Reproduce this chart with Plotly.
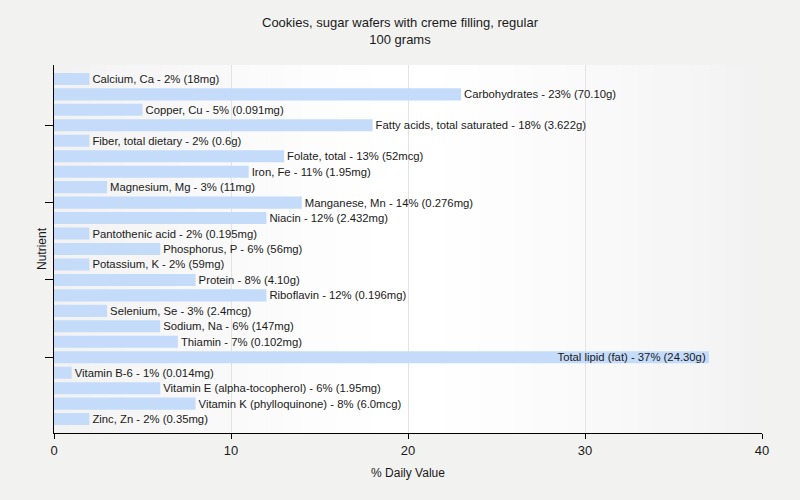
import plotly.graph_objects as go

nutrients = ["Calcium, Ca", "Carbohydrates", "Copper, Cu", "Fatty acids, total saturated",
             "Fiber, total dietary", "Folate, total", "Iron, Fe", "Magnesium, Mg",
             "Manganese, Mn", "Niacin", "Pantothenic acid", "Phosphorus, P",
             "Potassium, K", "Protein", "Riboflavin", "Selenium, Se", "Sodium, Na",
             "Thiamin", "Total lipid (fat)", "Vitamin B-6", "Vitamin E (alpha-tocopherol)",
             "Vitamin K (phylloquinone)", "Zinc, Zn"]
daily_pct = [2, 23, 5, 18, 2, 13, 11, 3, 14, 12, 2, 6, 2, 8, 12, 3, 6, 7, 37, 1, 6, 8, 2]
amounts = ["18mg", "70.10g", "0.091mg", "3.622g", "0.6g", "52mcg", "1.95mg", "11mg",
           "0.276mg", "2.432mg", "0.195mg", "56mg", "59mg", "4.10g", "0.196mg", "2.4mcg",
           "147mg", "0.102mg", "24.30g", "0.014mg", "1.95mg", "6.0mcg", "0.35mg"]
x_ticks = [0, 10, 20, 30, 40]
y_tick_idx = [3, 8, 13, 18]

labels = [f"{n} - {v}% ({a})" for n, v, a in zip(nutrients, daily_pct, amounts)]
max_v = max(daily_pct)
positions = ["inside" if v == max_v else "outside" for v in daily_pct]

font_family = "Liberation Sans, Arial, sans-serif"
txt_color = "#1a1a1a"

fig = go.Figure(go.Bar(
    x=daily_pct, y=nutrients, orientation="h",
    marker=dict(color="#c4dcfa", line=dict(width=0)),
    text=labels, textposition=positions, insidetextanchor="end",
    textfont=dict(family=font_family, size=11.3, color=txt_color),
    cliponaxis=False, hoverinfo="skip",
))

# horizontal gradient background in plot area
shapes = []
n = 40
for i in range(n):
    t = (i + 0.5) / n
    d = abs(t - 0.5) * 2  # 0 center, 1 edge
    c = int(round(255 - 13 * d ** 1.3))
    col = f"rgb({c},{c},{c})"
    shapes.append(dict(type="rect", xref="x domain", yref="y domain",
                       x0=i / n, x1=(i + 1) / n + 0.002, y0=0, y1=1,
                       fillcolor=col, line=dict(width=0), layer="below"))

fig.update_layout(
    width=800, height=500,
    paper_bgcolor="#f2f2f1", plot_bgcolor="rgba(0,0,0,0)",
    margin=dict(l=54, r=38, t=65, b=67, autoexpand=False),
    title=dict(text="Cookies, sugar wafers with creme filling, regular<br>100 grams",
               x=0.5, xanchor="center", y=0.946, yanchor="top",
               font=dict(family=font_family, size=13, color=txt_color)),
    bargap=0.22,
    showlegend=False,
    shapes=shapes,
    uniformtext=dict(mode="show", minsize=11),
    annotations=[dict(text="Nutrient", xref="paper", yref="paper", x=0, y=0.5,
                      xanchor="center", yanchor="middle", xshift=-12, textangle=-90,
                      showarrow=False,
                      font=dict(family=font_family, size=12, color=txt_color))],
)
fig.update_xaxes(
    range=[0, 40], tickvals=x_ticks, showgrid=True, gridcolor="#e3e3e3", gridwidth=1,
    showline=True, linecolor="black", linewidth=1, ticks="outside", ticklen=5,
    tickcolor="black", zeroline=False, automargin=False,
    tickfont=dict(family=font_family, size=13, color=txt_color),
    title=dict(text="% Daily Value", font=dict(family=font_family, size=12, color=txt_color),
               standoff=12),
)
fig.update_yaxes(
    range=[len(nutrients) - 0.1, -0.9], categoryorder="array", categoryarray=nutrients,
    tickvals=[nutrients[i] for i in y_tick_idx], ticktext=["" for _ in y_tick_idx],
    showline=True, linecolor="black", linewidth=1, ticks="outside", ticklen=8,
    tickcolor="black", showgrid=False, automargin=False,
)

fig.write_html("out.html", config={"displayModeBar": False},
               post_script="document.body.style.margin='0';document.body.style.background='#f2f2f1';")
